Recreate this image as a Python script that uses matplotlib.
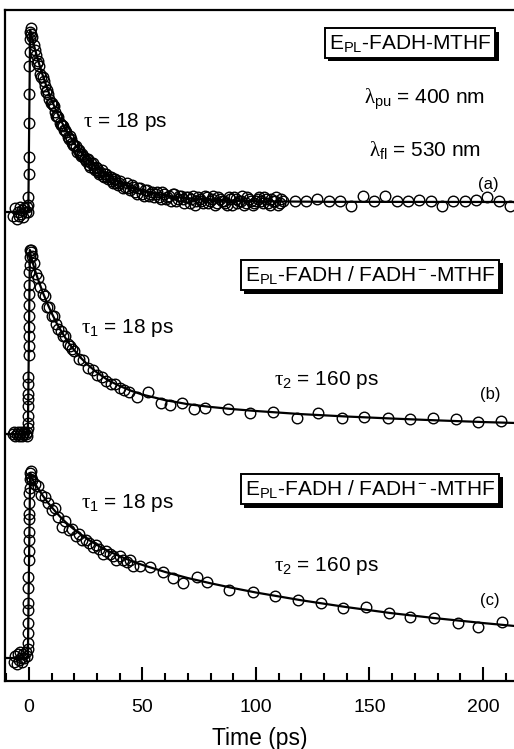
import matplotlib
matplotlib.use("Agg")
import matplotlib.pyplot as plt
from matplotlib.ticker import MultipleLocator, NullLocator
import matplotlib.patheffects as pe

plt.rcParams['font.family'] = ['Liberation Sans', 'DejaVu Sans']
plt.rcParams['mathtext.fontset'] = 'custom'
plt.rcParams['mathtext.rm'] = 'Liberation Sans'
plt.rcParams['mathtext.it'] = 'Liberation Serif'
plt.rcParams['mathtext.default'] = 'it'

# ---- data (normalised: pre-zero level = 0, peak = 1) ----
# (a) EPL-FADH-MTHF
ta = [-7, -6.2, -5.5, -5, -4.5, -4, -3.5, -3, -2.5, -2, -1.5, -1,
      -0.5, -0.4, -0.3, -0.2, -0.1, 0.0, 0.1, 0.2, 0.3, 0.4,
      0.6, 0.8, 1.0, 1.3,
      2, 3, 4, 5, 6, 7, 8, 9, 10, 11, 12, 13, 14, 15, 16, 17, 18, 19, 20,
      21, 22, 23, 24, 25, 26, 27, 28, 29, 30, 31, 32, 33, 34, 35, 36, 37, 38, 39, 40,
      41.5, 43, 44.5, 46, 47.5, 49, 50.5, 52, 53.5, 55,
      56.5, 58, 59.5, 61, 62.5, 64, 65.5, 67, 68.5, 70,
      71.5, 73, 74.5, 76, 77.5, 79, 80.5, 82, 83.5, 85,
      86.5, 88, 89.5, 91, 92.5, 94, 95.5, 97, 98.5, 100,
      101.5, 103, 104.5, 106, 107.5, 109, 110.5, 112,
      117, 122, 127, 132, 137, 142, 147, 152, 157, 162,
      167, 172, 177, 182, 187, 192, 197, 202, 207, 212]
ya = [-0.02, 0.02, -0.04, 0.0, -0.02, 0.03, -0.01, 0.01, -0.03, 0.02, 0.0, 0.03,
      0.0, 0.04, 0.08, 0.21, 0.30, 0.49, 0.65, 0.80, 0.88, 0.95,
      0.99, 1.01, 0.98, 0.96,
      0.92, 0.86, 0.83, 0.76, 0.74, 0.69, 0.67, 0.62, 0.60, 0.58, 0.53, 0.52, 0.48, 0.47,
      0.45, 0.41, 0.42, 0.38, 0.37,
      0.33, 0.34, 0.31, 0.31, 0.28, 0.29, 0.25, 0.27, 0.23, 0.24, 0.21, 0.23, 0.19, 0.21,
      0.18, 0.19, 0.16, 0.18, 0.15, 0.17,
      0.13, 0.16, 0.12, 0.14, 0.10, 0.13, 0.09, 0.12, 0.10, 0.08,
      0.11, 0.07, 0.10, 0.08, 0.06, 0.10, 0.07, 0.09, 0.05, 0.08,
      0.07, 0.04, 0.08, 0.06, 0.09, 0.05, 0.07, 0.04, 0.08, 0.06,
      0.05, 0.08, 0.04, 0.07, 0.06, 0.09, 0.05, 0.07, 0.04, 0.06,
      0.08, 0.05, 0.07, 0.04, 0.06, 0.08, 0.05, 0.06,
      0.06, 0.06, 0.07, 0.06, 0.06, 0.035, 0.09, 0.06, 0.09, 0.06,
      0.06, 0.065, 0.06, 0.035, 0.06, 0.06, 0.065, 0.08, 0.06, 0.035]
# (a) interleaved samples of the dense part of the trace
ta_mid = [2.5, 3.5, 4.5, 5.5, 6.5, 7.5, 8.5, 9.5, 10.5, 11.5,
          12.5, 13.5, 14.5, 15.5, 16.5, 17.5, 18.5, 19.5, 20.5, 21.5,
          22.5, 23.5, 24.5, 25.5, 26.5, 27.5, 28.5, 29.5, 30.5, 31.5,
          32.5, 33.5, 34.5, 35.5, 36.5, 37.5, 38.5, 39.5,
          42.25, 43.75, 45.25, 46.75, 48.25, 49.75, 51.25, 52.75, 54.25, 55.75,
          57.25, 58.75, 60.25, 61.75, 63.25, 64.75, 66.25, 67.75, 69.25, 70.75,
          72.25, 73.75, 75.25, 76.75, 78.25, 79.75, 81.25, 82.75, 84.25, 85.75,
          87.25, 88.75, 90.25, 91.75, 93.25, 94.75, 96.25, 97.75, 99.25, 100.75,
          102.25, 103.75, 105.25, 106.75, 108.25, 109.75, 111.25]
ya_mid = [0.89, 0.82, 0.80, 0.74, 0.72, 0.66, 0.65, 0.60, 0.59, 0.55,
          0.53, 0.49, 0.48, 0.45, 0.44, 0.40, 0.40, 0.37, 0.36, 0.34,
          0.32, 0.32, 0.29, 0.29, 0.26, 0.27, 0.24, 0.25, 0.22, 0.22,
          0.20, 0.21, 0.19, 0.19, 0.17, 0.18, 0.16, 0.16,
          0.14, 0.13, 0.15, 0.11, 0.13, 0.10, 0.12, 0.09, 0.11, 0.10,
          0.08, 0.11, 0.07, 0.09, 0.10, 0.06, 0.09, 0.07, 0.08, 0.05,
          0.09, 0.06, 0.07, 0.05, 0.08, 0.06, 0.09, 0.05, 0.07, 0.06,
          0.04, 0.07, 0.08, 0.05, 0.06, 0.04, 0.08, 0.06, 0.05, 0.07,
          0.06, 0.08, 0.05, 0.07, 0.06, 0.04, 0.07]
fit_ta = [-10.6, -0.3, 0.5, 1, 2, 3, 4, 5, 6, 8, 10, 12, 14, 16, 18, 20, 23, 26, 30,
          35, 40, 45, 50, 60, 70, 80, 100, 130, 214]
fit_ya = [0, 0, 1.0, 0.975, 0.925, 0.878, 0.834, 0.792, 0.753, 0.680, 0.614, 0.556,
          0.504, 0.457, 0.415, 0.377, 0.327, 0.286, 0.240, 0.193, 0.160, 0.134, 0.115,
          0.090, 0.075, 0.066, 0.059, 0.056, 0.055]

# (b) EPL-FADH / FADH- -MTHF
tb = [-7, -6.5, -6, -5.5, -5, -4.5, -4, -3.5, -3, -2.5, -2, -1.5, -1, -0.7,
      -0.6, -0.55, -0.5, -0.45, -0.4, -0.35, -0.3, -0.25, -0.2, -0.15, -0.1, -0.05,
      0.0, 0.05, 0.1, 0.15, 0.2, 0.25,
      0.35, 0.5, 0.7, 0.9, 1.2,
      2, 3, 4, 5, 6, 7, 8, 9, 10, 11, 12, 13, 14, 15, 16, 17, 18, 19, 20,
      22, 24, 26, 28, 30, 32, 34, 36, 38, 40, 42, 44,
      47.5, 52.5, 58, 62, 67.5, 72.5, 77.5, 87.5, 97.5, 107.5,
      118, 127.5, 138, 147.5, 158, 168, 178, 188, 198, 208]
yb = [0.0, 0.01, -0.01, 0.0, 0.01, -0.01, 0.0, 0.01, -0.01, 0.0, 0.01, 0.0, -0.01, 0.01,
      0.03, 0.06, 0.10, 0.15, 0.19, 0.22, 0.27, 0.31, 0.43, 0.48, 0.53, 0.58,
      0.64, 0.70, 0.76, 0.81, 0.88, 0.92,
      0.96, 1.0, 0.99, 1.0, 0.97,
      0.93, 0.87, 0.85, 0.80, 0.76, 0.75, 0.69, 0.69, 0.64, 0.64, 0.60, 0.57, 0.56, 0.53,
      0.53, 0.49, 0.48, 0.46, 0.45,
      0.41, 0.40, 0.36, 0.35, 0.32, 0.31, 0.29, 0.27, 0.27, 0.25, 0.24, 0.23,
      0.20, 0.23, 0.17, 0.16, 0.17, 0.135, 0.14, 0.135, 0.115, 0.12,
      0.087, 0.114, 0.087, 0.092, 0.087, 0.082, 0.087, 0.082, 0.065, 0.071]
fit_tb = [-10.6, -0.5, 0.4, 1, 2, 3, 4, 5, 6, 8, 10, 12, 14, 16, 18, 20, 23, 26, 30, 35,
          40, 45, 50, 60, 70, 80, 90, 100, 120, 140, 160, 180, 200, 214]
fit_yb = [0, 0, 1.0, 0.957, 0.916, 0.877, 0.840, 0.806, 0.772, 0.712, 0.657, 0.607,
          0.563, 0.523, 0.487, 0.455, 0.412, 0.375, 0.334, 0.291, 0.261, 0.235, 0.214,
          0.184, 0.162, 0.147, 0.135, 0.125, 0.108, 0.095, 0.084, 0.074, 0.065, 0.060]

# (c) EPL-FADH / FADH- -MTHF
tc = [-6.5, -6, -5.5, -5, -4.5, -4, -3.5, -3, -2.5, -2, -1.5, -1,
      -0.6, -0.55, -0.5, -0.45, -0.4, -0.35, -0.3, -0.25, -0.2, -0.15, -0.1, -0.05,
      0.0, 0.05, 0.1, 0.15,
      0.3, 0.45, 0.6, 0.8, 1.0, 1.3,
      2.5, 4, 5.5, 7, 8.5, 10, 11.5, 13, 14.5, 16,
      17.5, 19, 20.5, 22, 23.5, 25, 26.5, 28, 29.5, 31,
      32.5, 34, 35.5, 37, 38.5, 40, 41.5, 43, 44.5, 46,
      49, 53.5, 59, 63.5, 68, 74, 78.5, 88, 98.5, 108.5,
      118.5, 128.5, 138.5, 148.5, 158.5, 168, 178.5, 189, 198, 208.5]
yc = [-0.02, 0.01, -0.03, 0.02, -0.01, 0.03, 0.0, -0.02, 0.02, 0.0, 0.03, 0.01,
      0.05, 0.08, 0.135, 0.19, 0.26, 0.30, 0.38, 0.44, 0.53, 0.58, 0.64, 0.68,
      0.75, 0.78, 0.84, 0.89,
      0.92, 0.97, 1.0, 0.98, 1.01, 0.96,
      0.94, 0.93, 0.88, 0.87, 0.84, 0.80, 0.81, 0.76, 0.71, 0.74,
      0.69, 0.70, 0.66, 0.67, 0.64, 0.64, 0.62, 0.60, 0.61, 0.59,
      0.56, 0.58, 0.56, 0.55, 0.53, 0.55, 0.53, 0.52, 0.53, 0.50,
      0.50, 0.49, 0.465, 0.43, 0.405, 0.44, 0.41, 0.37, 0.357, 0.335,
      0.314, 0.297, 0.27, 0.276, 0.243, 0.222, 0.216, 0.189, 0.168, 0.195]
fit_tc = [-10.6, -0.5, 0.5, 1, 2, 3, 4, 5, 6, 8, 10, 12, 14, 16, 18, 20, 23, 26, 30, 35,
          40, 45, 50, 60, 70, 80, 90, 100, 120, 140, 160, 180, 200, 214]
fit_yc = [0, 0, 1.0, 0.978, 0.956, 0.935, 0.916, 0.897, 0.879, 0.845, 0.815, 0.787,
          0.760, 0.736, 0.714, 0.694, 0.666, 0.641, 0.611, 0.578, 0.550, 0.525, 0.503,
          0.465, 0.432, 0.404, 0.378, 0.354, 0.312, 0.275, 0.242, 0.214, 0.189, 0.173]

# vertical placement of each trace (offset, scale) in axis units
panels = [(ta + ta_mid, ya + ya_mid, fit_ta, fit_ya, 469, 182),
          (tb, yb, fit_tb, fit_yb, 247, 184),
          (tc, yc, fit_tc, fit_yc, 23, 185)]

W, H = 514, 749
fig = plt.figure(figsize=(W / 100, H / 100), dpi=100)
ax = fig.add_axes([5 / W, 1 - 681 / H, 1 - 5 / W, 671 / H])

for t, y, ft, fy, off, sc in panels:
    ax.plot(ft, [off + sc * v for v in fy], color='black', lw=1.6, zorder=2)
    ax.plot(t, [off + sc * v for v in y], linestyle='none', marker='o', ms=7.6,
            mfc='none', mec='black', mew=1.0, zorder=3)

ax.set_xlim(-10.57, 213.7)
ax.set_ylim(0, 671)
ax.xaxis.set_major_locator(MultipleLocator(50))
ax.xaxis.set_minor_locator(MultipleLocator(10))
ax.yaxis.set_major_locator(NullLocator())
ax.tick_params(axis='x', which='major', direction='in', length=10, width=1.5,
               labelsize=14, pad=13)
ax.tick_params(axis='x', which='minor', direction='in', length=6, width=1.5)
ax.spines['right'].set_visible(False)
for s in ['left', 'top', 'bottom']:
    ax.spines[s].set_linewidth(1.6)
ax.set_xlabel('Time (ps)', fontsize=16.5, labelpad=8)


def ptext(x, y, s, size=15, **kw):
    return fig.text(x / W, 1 - y / H, s, fontsize=size, ha='center', va='center', **kw)


def boxed(x, y, s):
    txt = ptext(x, y, s, size=15,
                bbox=dict(boxstyle='square,pad=0.2', fc='white', ec='black', lw=1.4))
    txt.get_bbox_patch().set_path_effects([
        pe.SimplePatchShadow(offset=(2.6, -2.6), shadow_rgbFace='black', alpha=1.0),
        pe.Normal()])
    return txt


# panel (a)
boxed(410, 43, r'E$_{\rm PL}$-FADH-MTHF')
ptext(425, 99, r'$\lambda_{\rm pu}$ = 400 nm')
ptext(425, 150, r'$\lambda_{\rm fl}$ = 530 nm')
ptext(488, 184, '(a)', size=12)
ptext(125, 122, r'$\tau$ = 18 ps')

# panel (b)
boxed(370, 275, r'E$_{\rm PL}$-FADH / FADH$^{\rm -}$-MTHF')
ptext(128, 328, r'$\tau_{\rm 1}$ = 18 ps')
ptext(326, 380, r'$\tau_{\rm 2}$ = 160 ps')
ptext(490, 395, '(b)', size=12)

# panel (c)
boxed(370, 489, r'E$_{\rm PL}$-FADH / FADH$^{\rm -}$-MTHF')
ptext(128, 503, r'$\tau_{\rm 1}$ = 18 ps')
ptext(326, 566, r'$\tau_{\rm 2}$ = 160 ps')
ptext(490, 601, '(c)', size=12)

fig.savefig('out.png', dpi=100)
